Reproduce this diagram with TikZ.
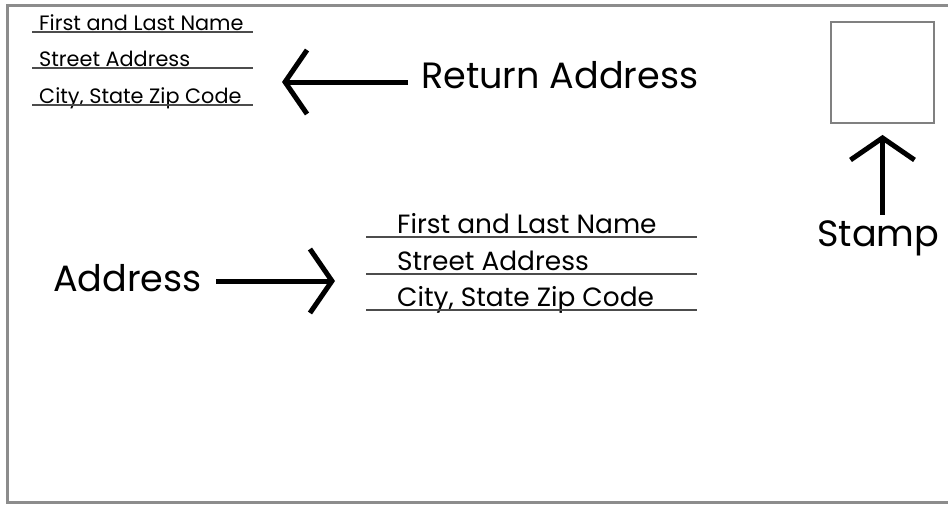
\documentclass[tikz,border=0pt]{standalone}
\usepackage{fontspec}
\setmainfont{Poppins}
\usetikzlibrary{arrows.meta,calc}
\tikzset{
  card/.style={draw=black!45, line width=3pt},
  uline/.style={draw=black!70, line width=1.6pt},
  smalltxt/.style={inner sep=0pt, anchor=base west, font=\fontsize{20.8}{22}\selectfont},
  bigtxt/.style={inner sep=0pt, anchor=base west, font=\fontsize{26.4}{28}\selectfont},
  labeltxt/.style={inner sep=0pt, font=\fontsize{36.6}{40}\selectfont},
  chev/.style={line width=5pt, -{Straight Barb[length=22pt,width=64pt]}},
  stampbox/.style={draw=black!50, line width=1.8pt, minimum width=103pt, minimum height=101pt, inner sep=0pt}
}
\begin{document}
\begin{tikzpicture}[x=1pt,y=-1pt]
\useasboundingbox (0,0) rectangle (948,504);
% card outline
\draw[card] (948,5) -- (7,5) -- (7,502) -- (948,502);
% return address block
\node[smalltxt] (r1) at (39,30) {First and Last Name};
\node[smalltxt] (r2) at (39,66) {Street Address};
\node[smalltxt] (r3) at (39,103) {City, State Zip Code};
\draw[uline] (32,32) -- (253,32);
\draw[uline] (32,68) -- (253,68);
\draw[uline] (32,105) -- (253,105);
% recipient block
\node[bigtxt] (a1) at (397,233) {First and Last Name};
\node[bigtxt] (a2) at (397,270) {Street Address};
\node[bigtxt] (a3) at (397,306) {City, State Zip Code};
\draw[uline] (366,237) -- (697,237);
\draw[uline] (366,274) -- (697,274);
\draw[uline] (366,310) -- (697,310);
% labels
\node[labeltxt, anchor=base west] (ret) at (421,88) {Return Address};
\node[labeltxt, anchor=base east] (addr) at (202,291) {Address};
\node[labeltxt, anchor=base west] (stamp) at (817,246) {Stamp};
% stamp box
\node[stampbox] (box) at (882.5,72.5) {};
% arrows
\coordinate (rettip) at (282,82);
\coordinate (addrtip) at (335,281);
\draw[chev] ($(ret.base west)+(-13,-6)$) -- (rettip);
\draw[chev] ($(addr.base east)+(14,-10)$) -- (addrtip);
\draw[chev] ($(stamp.north -| box.south)+(0,-5)$) -- ($(box.south)+(0,11)$);
\end{tikzpicture}
\end{document}
